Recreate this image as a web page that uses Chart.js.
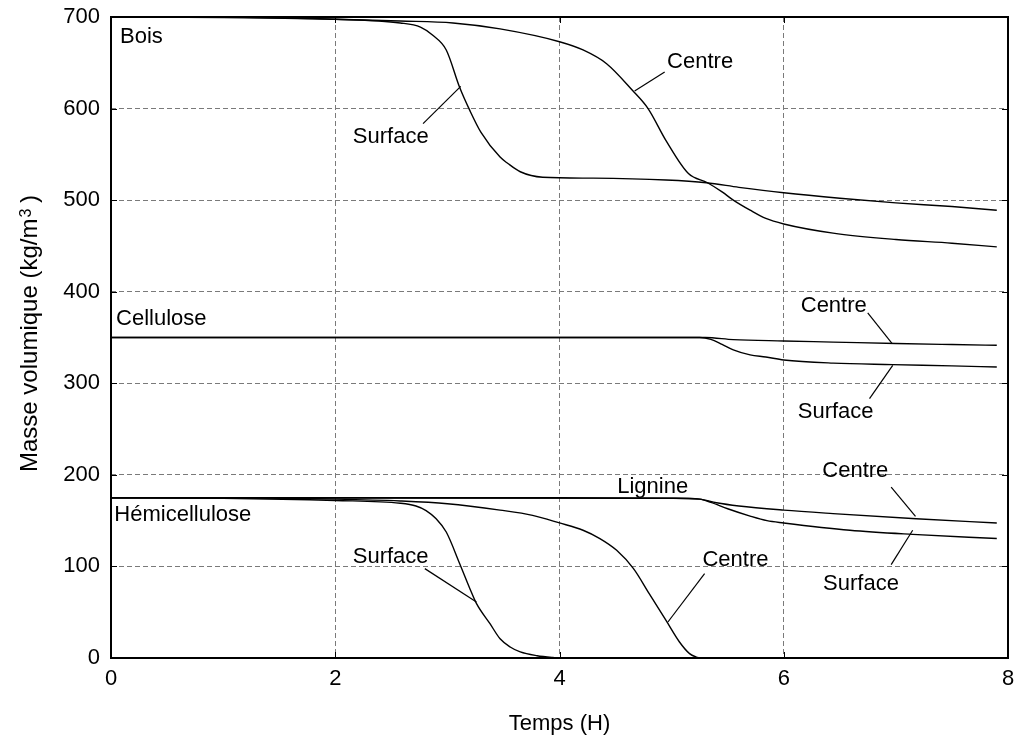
<!DOCTYPE html>
<html>
<head>
<meta charset="utf-8">
<script src="https://cdn.jsdelivr.net/npm/chart.js@4/dist/chart.umd.min.js"></script>
<style>
  html, body { margin: 0; padding: 0; background: #fff; }
  #c { display: block; }
</style>
</head>
<body>
<canvas id="c" width="1015" height="740" style="width:1015px;height:740px"></canvas>
<script>
// ---- Data (time in hours, density in kg/m3) ----
const xTicks = [0, 2, 4, 6, 8];
const yTicks = [0, 100, 200, 300, 400, 500, 600, 700];

const boisSurfaceT = [0, 1.0, 2.0, 2.58, 2.76, 2.87, 2.99, 3.11, 3.2, 3.3, 3.47, 3.54, 3.65, 3.85, 4.3, 4.95, 5.31, 5.6, 6.0, 6.5, 7.0, 7.5, 7.9];
const boisSurfaceV = [700, 699.5, 697.5, 693.5, 689, 680, 664, 623, 598, 574, 547, 540, 531, 525, 524, 522, 519, 514, 508, 502, 497, 493, 489];

const boisCentreT = [0, 1, 2, 2.58, 3.05, 3.47, 4.0, 4.21, 4.42, 4.65, 4.79, 4.95, 5.15, 5.32, 5.45, 5.55, 5.7, 5.84, 6.0, 6.44, 7.0, 7.5, 7.9];
const boisCentreV = [700, 699.8, 697.5, 695.6, 693.5, 687, 673, 664, 649, 620, 600, 565, 529, 519, 509, 500, 489, 480, 474, 464, 457, 453, 449];

const celluloseCentreT = [0, 5.3, 5.55, 6.0, 6.44, 7.0, 7.5, 7.9];
const celluloseCentreV = [350, 350, 347.7, 346.2, 345, 343.4, 342.3, 341.5];

const celluloseSurfaceT = [0, 5.25, 5.35, 5.45, 5.55, 5.7, 5.84, 6.0, 6.44, 6.97, 7.5, 7.9];
const celluloseSurfaceV = [350, 350, 348, 342.5, 336.5, 331, 328.7, 325.5, 322, 320.4, 319, 317.8];

const lignineCentreT = [0, 4.0, 5.0, 5.25, 5.4, 5.6, 6.0, 6.44, 7.18, 7.9];
const lignineCentreV = [175, 175, 174.5, 173.5, 169.5, 166, 161.5, 157.7, 152, 147.5];

const lignineSurfaceT = [0, 5.0, 5.25, 5.35, 5.5, 5.7, 5.85, 6.0, 6.59, 7.15, 7.9];
const lignineSurfaceV = [175, 174.5, 173.5, 170, 163, 155, 150, 147.5, 139.5, 135, 130.5];

const hemiSurfaceT = [0, 1, 2, 2.58, 2.72, 2.81, 2.9, 2.99, 3.11, 3.2, 3.26, 3.38, 3.47, 3.56, 3.65, 3.8, 3.94, 4.0];
const hemiSurfaceV = [175, 174.5, 172, 169, 166, 161, 152, 137.6, 103, 76, 59.4, 37.5, 21, 12, 6.6, 2.5, 0.5, 0];

const hemiCentreT = [0, 1, 2, 2.58, 3.0, 3.47, 3.76, 4.0, 4.21, 4.36, 4.51, 4.66, 4.8, 4.95, 5.07, 5.16, 5.22, 5.25];
const hemiCentreV = [175, 175, 173.5, 171.5, 168.5, 161.5, 155.8, 147.5, 139.5, 130.4, 117.6, 97.6, 70.3, 41, 17.5, 4.8, 1, 0];

// ---- Annotations (data coordinates) ----
const noteText  = ['Bois', 'Surface', 'Centre', 'Cellulose', 'Centre', 'Surface', 'Hémicellulose', 'Surface', 'Lignine', 'Centre', 'Centre', 'Surface'];
const noteX     = [0.08, 2.495, 5.254, 0.045, 6.446, 6.463, 0.03, 2.494, 4.831, 5.569, 6.638, 6.689];
const noteY     = [680, 571, 652.7, 372.4, 386.3, 270.5, 158.6, 112.7, 188.6, 109.4, 205.9, 83];
const noteAlign = ['left', 'center', 'center', 'left', 'center', 'center', 'left', 'center', 'center', 'center', 'center', 'center'];

const leaderFrom = [[2.783, 583.6], [4.938, 640], [6.749, 376.8], [6.765, 283.3], [2.799, 97.6], [5.294, 92.2], [6.958, 186.7], [6.958, 102]];
const leaderTo   = [[3.119, 624.3], [4.67, 619.2], [6.967, 343.3], [6.972, 319.6], [3.259, 61.2], [4.967, 39.3], [7.175, 154.7], [7.15, 139.5]];

const FONT = '"Liberation Sans", Arial, Helvetica, sans-serif';

function pts(ts, vs) { return ts.map((t, i) => ({ x: t, y: vs[i] })); }
function ds(ts, vs) {
  return {
    data: pts(ts, vs),
    borderColor: '#000',
    borderWidth: 1.4,
    pointRadius: 0,
    fill: false,
    cubicInterpolationMode: 'monotone'
  };
}

const framePlugin = {
  id: 'frameAndNotes',
  afterDatasetsDraw(chart) {
    const ctx = chart.ctx;
    const a = chart.chartArea;
    const xs = chart.scales.x, ys = chart.scales.y;
    ctx.save();
    // inward ticks
    ctx.strokeStyle = '#000';
    ctx.lineWidth = 1;
    const tl = 6;
    xTicks.forEach(t => {
      const px = Math.round(xs.getPixelForValue(t)) + 0.5;
      ctx.beginPath();
      ctx.moveTo(px, a.bottom); ctx.lineTo(px, a.bottom - tl);
      ctx.moveTo(px, a.top); ctx.lineTo(px, a.top + tl);
      ctx.stroke();
    });
    yTicks.forEach(v => {
      const py = Math.round(ys.getPixelForValue(v)) + 0.5;
      ctx.beginPath();
      ctx.moveTo(a.left, py); ctx.lineTo(a.left + tl, py);
      ctx.moveTo(a.right, py); ctx.lineTo(a.right - tl, py);
      ctx.stroke();
    });
    // frame
    ctx.lineWidth = 2;
    ctx.strokeRect(a.left, a.top, a.right - a.left, a.bottom - a.top);

    // leader lines
    ctx.lineWidth = 1.2;
    leaderFrom.forEach((f, i) => {
      const tt = leaderTo[i];
      ctx.beginPath();
      ctx.moveTo(xs.getPixelForValue(f[0]), ys.getPixelForValue(f[1]));
      ctx.lineTo(xs.getPixelForValue(tt[0]), ys.getPixelForValue(tt[1]));
      ctx.stroke();
    });

    // annotation texts
    ctx.fillStyle = '#000';
    ctx.font = '22px ' + FONT;
    ctx.textBaseline = 'alphabetic';
    noteText.forEach((s, i) => {
      ctx.textAlign = noteAlign[i];
      ctx.fillText(s, xs.getPixelForValue(noteX[i]), ys.getPixelForValue(noteY[i]) + 7.9);
    });

    // x axis title
    ctx.textAlign = 'center';
    ctx.fillText('Temps (H)', (a.left + a.right) / 2, 730);

    // y axis title with superscript
    const main = 'Masse volumique (kg/m', sup = '3', tail = ' )';
    ctx.translate(36.5, 333.5);
    ctx.rotate(-Math.PI / 2);
    ctx.textAlign = 'left';
    ctx.font = '24px ' + FONT;
    const w1 = ctx.measureText(main).width;
    const w3 = ctx.measureText(tail).width;
    ctx.font = '16px ' + FONT;
    const w2 = ctx.measureText(sup).width;
    const total = w1 + w2 + w3;
    let x0 = -total / 2;
    ctx.font = '24px ' + FONT;
    ctx.fillText(main, x0, 0);
    ctx.font = '16px ' + FONT;
    ctx.fillText(sup, x0 + w1 + 1, -6);
    ctx.font = '24px ' + FONT;
    ctx.fillText(tail, x0 + w1 + w2, 0);
    ctx.restore();
  }
};

new Chart(document.getElementById('c'), {
  type: 'line',
  data: {
    datasets: [
      ds(boisSurfaceT, boisSurfaceV),
      ds(boisCentreT, boisCentreV),
      ds(celluloseCentreT, celluloseCentreV),
      ds(celluloseSurfaceT, celluloseSurfaceV),
      ds(lignineCentreT, lignineCentreV),
      ds(lignineSurfaceT, lignineSurfaceV),
      ds(hemiSurfaceT, hemiSurfaceV),
      ds(hemiCentreT, hemiCentreV)
    ]
  },
  options: {
    responsive: false,
    animation: false,
    layout: { padding: { top: 17, right: 7, left: 0, bottom: 0 } },
    plugins: { legend: { display: false }, tooltip: { enabled: false } },
    scales: {
      x: {
        type: 'linear', min: 0, max: 8,
        afterBuildTicks: s => { s.ticks = xTicks.map(v => ({ value: v })); },
        afterFit: s => { s.height = 82; s.paddingLeft = 0; s.paddingRight = 0; },
        ticks: { padding: 8, color: '#000', font: { family: FONT, size: 22 }, maxRotation: 0 },
        grid: { color: '#7a7a7a', lineWidth: 1, drawTicks: false },
        border: { display: false, dash: [5, 3] }
      },
      y: {
        type: 'linear', min: 0, max: 700,
        afterBuildTicks: s => { s.ticks = yTicks.map(v => ({ value: v })); },
        afterFit: s => { s.width = 111; s.paddingTop = 0; s.paddingBottom = 0; },
        ticks: { padding: 11, color: '#000', font: { family: FONT, size: 22 } },
        grid: { color: '#7a7a7a', lineWidth: 1, drawTicks: false },
        border: { display: false, dash: [5, 3] }
      }
    }
  },
  plugins: [framePlugin]
});
</script>
</body>
</html>
